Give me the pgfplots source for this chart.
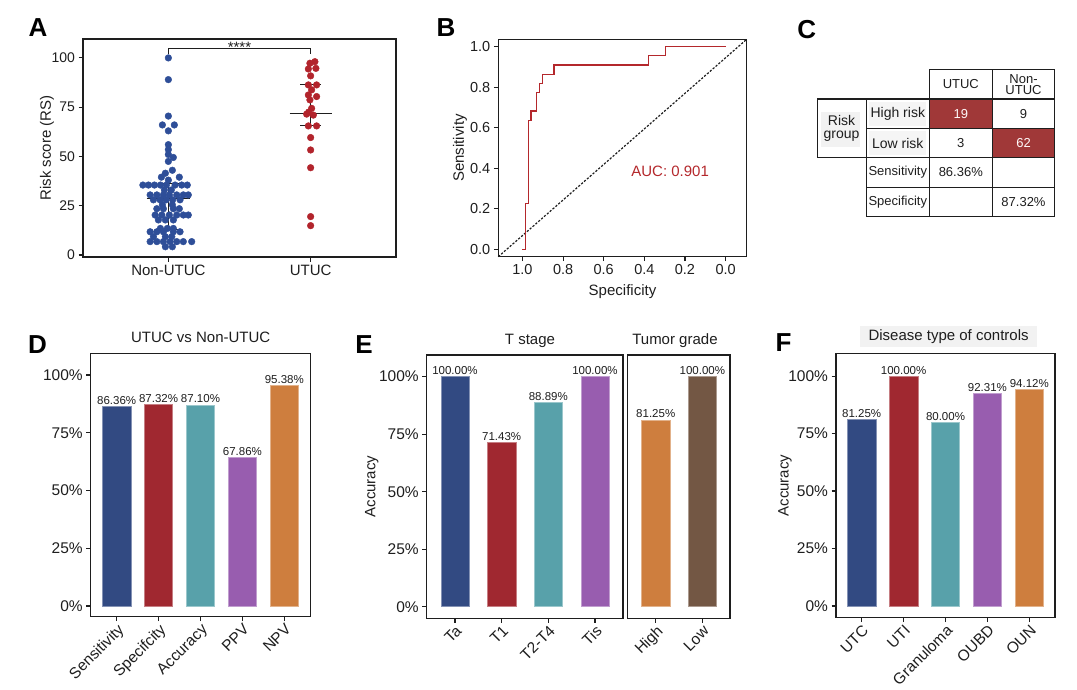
\documentclass[border=0pt]{standalone}
\usepackage{fontspec}
\setmainfont{Liberation Sans}
\usepackage{pgfplots}
\pgfplotsset{compat=1.18}
\definecolor{dotblue}{RGB}{46,78,152}
\definecolor{dotred}{RGB}{178,36,44}
\definecolor{cblue}{RGB}{50,74,130}
\definecolor{cred}{RGB}{160,40,48}
\definecolor{cteal}{RGB}{88,161,170}
\definecolor{cpurple}{RGB}{152,93,175}
\definecolor{corange}{RGB}{206,126,62}
\definecolor{cbrown}{RGB}{115,87,68}
\definecolor{rocred}{RGB}{180,40,44}
\definecolor{tabred}{RGB}{160,56,56}
\definecolor{ink}{RGB}{30,30,30}
\newcommand{\fs}[1]{\fontsize{#1}{#1}\selectfont}
\pgfplotsset{
  panel/.style={scale only axis, anchor=south west,
    axis line style={line width=1.5pt, ink},
    every tick/.style={line width=1.1pt, ink},
    major tick length=4.5pt, tick align=outside,
    xtick pos=bottom, ytick pos=left,
    /pgf/number format/assume math mode=true,
    tick label style={font=\fs{14}, text=ink},
    clip=false},
  ylab/.style={every axis y label/.style={at={(axis description cs:#1,0.5)}, rotate=90, anchor=center, font=\fs{15}, text=ink}},
  xlab/.style={every axis x label/.style={at={(axis description cs:0.5,#1)}, anchor=center, font=\fs{15}, text=ink}},
  barpanel/.style={panel, ytick={0,25,50,75,100}, yticklabels={0\%,25\%,50\%,75\%,100\%},
    tick label style={font=\fs{15.5}},
    xticklabel style={rotate=45, anchor=north east, inner sep=1pt},
    title style={font=\fs{15}, anchor=base, text=ink},
    nodes near coords style={font=\fs{11.5}, text=ink, inner sep=1.5pt}},
  colbar/.style={ybar, bar width=28.3pt, bar shift=0pt, fill=#1, draw=#1!60!white, line width=0.5pt},
}
\begin{document}
\begin{tikzpicture}
\path[use as bounding box] (0pt,0pt) rectangle (1077pt,-690pt);

% ---------------- Panel A ----------------
\begin{axis}[panel, at={(83pt,-257pt)}, width=313pt, height=218pt,
  xmin=0.4, xmax=2.6, ymin=-1, ymax=109.6,
  xtick={1,2}, xticklabels={Non-UTUC,UTUC}, ytick={0,25,50,75,100},
  x tick label style={font=\fs{15}},
  ylab=-0.115, ylabel={Risk score (RS)}]
\addplot[only marks, mark=*, mark size=3.35pt, color=dotblue, mark options={draw=dotblue, fill=dotblue}] coordinates {
(1,100) (1,89) (1,70.5) (0.958,66) (1.042,66) (1,63) (1,56) (1,53.5) (1,51) (1.035,49.5) (1,47.5)
(1.028,43) (0.979,41.5) (0.951,39.5) (1.077,39.5) (1,38)
(0.821,35.5) (0.860,35.5) (0.902,35.5) (0.944,35.5) (0.986,35.5) (1.047,35.5) (1.094,35.5) (1.133,35.5)
(0.972,33) (1.021,33)
(0.872,30.5) (0.919,30.5) (0.965,30.5) (1.007,30.5) (1.059,30.5) (1.105,30.5) (1.140,30.5)
(0.895,28) (0.942,28) (0.984,28) (1.030,28) (1.082,28)
(0.958,25.5) (1.028,25.5)
(0.919,23.5) (0.965,23.5) (1.035,23.5) (1.077,23.5)
(0.907,20.3) (0.954,20.3) (1.007,20.3) (1.059,20.3) (1.105,20.3) (1.140,20.3)
(0.930,17.8) (0.979,17.8) (1.035,17.8)
(0.944,13.5) (0.993,13.5) (1.035,13.5)
(0.872,11.8) (0.919,11.8) (0.965,11.8) (1.035,11.8) (1.082,11.8)
(0.895,9.3) (0.979,9.3) (1.024,9.3)
(0.872,6.8) (0.919,6.8) (0.965,6.8) (1.012,6.8) (1.059,6.8) (1.105,6.8) (1.164,6.8)
(0.979,4.2) (1.028,4.2)
};
\addplot[only marks, mark=*, mark size=3.35pt, color=dotred, mark options={draw=dotred, fill=dotred}] coordinates {
(2.030,98.1) (1.995,97.3) (2.037,94.7) (1.984,94.4) (2.0,90.9) (1.984,86.3) (2.042,86.3)
(2.007,83.8) (1.984,81.2) (2.042,80.4) (1.995,78.7) (2.007,74.4) (1.986,72.5) (1.972,71.5)
(2.019,71) (1.984,65.5) (2.042,65.5) (2.0,59.6) (2.0,53.3) (2.0,44.3) (2.0,19.5) (2.0,14.9)
};
% summary bars
\addplot[ink, line width=1pt] coordinates {(0.848,28.8) (1.152,28.8)};
\addplot[ink, line width=1pt] coordinates {(1,13.2) (1,36.4)};
\addplot[ink, line width=1pt] coordinates {(0.928,36.4) (1.075,36.4)};
\addplot[ink, line width=1pt] coordinates {(0.928,13.2) (1.075,13.2)};
\addplot[ink, line width=1pt] coordinates {(1.852,72) (2.148,72)};
\addplot[ink, line width=1pt] coordinates {(2,65.5) (2,86.3)};
\addplot[ink, line width=1pt] coordinates {(1.928,86.3) (2.072,86.3)};
\addplot[ink, line width=1pt] coordinates {(1.928,65.5) (2.072,65.5)};
% significance bracket
\addplot[ink, line width=1pt] coordinates {(1,101.8) (1,104.6) (2,104.6) (2,101.8)};
\node[font=\fs{15}, inner sep=0pt, text=ink] at (axis cs:1.5,105.5) {****};
\end{axis}

% ---------------- Panel B ----------------
\begin{axis}[panel, at={(498.3pt,-256.7pt)}, width=248.4pt, height=217.4pt,
  x dir=reverse, xmin=-0.104, xmax=1.119, ymin=-0.0365, ymax=1.0365,
  xtick={0,0.2,0.4,0.6,0.8,1}, xticklabels={0.0,0.2,0.4,0.6,0.8,1.0},
  ytick={0,0.2,0.4,0.6,0.8,1}, yticklabels={0.0,0.2,0.4,0.6,0.8,1.0},
  tick label style={font=\fs{14.5}},
  xlabel={Specificity}, ylabel={Sensitivity}, ylab=-0.154, xlab=-0.162]
\addplot[ink, line width=1.2pt, dash pattern=on 2.2pt off 1.6pt] coordinates {(1.119,-0.0365) (-0.104,1.0365)};
\addplot[rocred, line width=1.3pt] coordinates {
(1,0) (0.986,0) (0.986,0.227) (0.972,0.227) (0.972,0.636) (0.958,0.636) (0.958,0.682)
(0.930,0.682) (0.930,0.773) (0.915,0.773) (0.915,0.818) (0.901,0.818) (0.901,0.864)
(0.845,0.864) (0.845,0.909) (0.380,0.909) (0.380,0.955) (0.296,0.955) (0.296,1) (0,1)
};
\node[font=\fs{15}, text=rocred] at (axis cs:0.273,0.386) {AUC: 0.901};
\end{axis}

% ---------------- Panel D ----------------
\begin{axis}[barpanel, at={(90.7pt,-616.7pt)}, width=220pt, height=263.4pt,
  xmin=0.38, xmax=5.63, ymin=-4.63, ymax=109.4,
  xtick={1,2,3,4,5}, xticklabels={Sensitivity,Specifcity,Accuracy,PPV,NPV},
  title={UTUC vs Non-UTUC}, title style={at={(axis description cs:0.5,1.019)}}]
\addplot[colbar=cblue, nodes near coords={86.36\%}] coordinates {(1,86.36)};
\addplot[colbar=cred, nodes near coords={87.32\%}] coordinates {(2,87.32)};
\addplot[colbar=cteal, nodes near coords={87.10\%}] coordinates {(3,87.10)};
\addplot[colbar=cpurple, nodes near coords={67.86\%}] coordinates {(4,64.29)};
\addplot[colbar=corange, nodes near coords={95.38\%}] coordinates {(5,95.38)};
\end{axis}

% ---------------- Panel E ----------------
\begin{axis}[barpanel, at={(426.7pt,-618.3pt)}, width=196.3pt, height=263.3pt,
  xmin=0.394, xmax=4.6, ymin=-5.04, ymax=109.4,
  xtick={1,2,3,4}, xticklabels={Ta,T1,T2-T4,Tis},
  title={T stage}, title style={at={(axis description cs:0.526,1.019)}},
  ylabel={Accuracy}, ylab=-0.28]
\addplot[colbar=cblue, nodes near coords={100.00\%}] coordinates {(1,100)};
\addplot[colbar=cred, nodes near coords={71.43\%}] coordinates {(2,71.43)};
\addplot[colbar=cteal, nodes near coords={88.89\%}] coordinates {(3,88.89)};
\addplot[colbar=cpurple, nodes near coords={100.00\%}] coordinates {(4,100)};
\end{axis}
\begin{axis}[barpanel, at={(627.3pt,-618.3pt)}, width=102.7pt, height=263.3pt,
  xmin=0.39, xmax=2.594, ymin=-5.04, ymax=109.4, ytick=\empty,
  xtick={1,2}, xticklabels={High,Low},
  title={Tumor grade}, title style={at={(axis description cs:0.464,1.019)}}]
\addplot[colbar=corange, nodes near coords={81.25\%}] coordinates {(1,81.25)};
\addplot[colbar=cbrown, nodes near coords={100.00\%}] coordinates {(2,100)};
\end{axis}

% ---------------- Panel F ----------------
\begin{axis}[barpanel, at={(836pt,-617.7pt)}, width=219pt, height=264.4pt,
  xmin=0.387, xmax=5.613, ymin=-5.09, ymax=109.9,
  xtick={1,2,3,4,5}, xticklabels={UTC,UTI,Granuloma,OUBD,OUN},
  title={Disease type of controls},
  title style={at={(axis description cs:0.514,1)}, anchor=south, fill=black!5, minimum width=177pt, minimum height=21pt, inner sep=0pt},
  ylabel={Accuracy}, ylab=-0.233]
\addplot[colbar=cblue, nodes near coords={81.25\%}] coordinates {(1,81.25)};
\addplot[colbar=cred, nodes near coords={100.00\%}] coordinates {(2,100)};
\addplot[colbar=cteal, nodes near coords={80.00\%}] coordinates {(3,80)};
\addplot[colbar=cpurple, nodes near coords={92.31\%}] coordinates {(4,92.31)};
\addplot[colbar=corange, nodes near coords={94.12\%}] coordinates {(5,94.12)};
\end{axis}

% ---------------- Panel C (table) and letters ----------------
\begin{scope}[x=1pt,y=1pt]
\fill[tabred] (929.3,-99) rectangle (992.3,-128.3);
\fill[tabred] (992.3,-128.3) rectangle (1054.7,-157.7);
\fill[black!5] (820.7,-111.7) rectangle (860,-146.7);
\fill[black!4] (869,-102) rectangle (926,-126);
\fill[black!4] (869,-131) rectangle (926,-155);
\draw[ink, line width=1.4pt] (929.3,-69.3) rectangle (1054.7,-99);
\draw[ink, line width=1.4pt] (992.3,-69.3) -- (992.3,-99);
\draw[ink, line width=1.4pt] (817.3,-99) rectangle (866.7,-157.7);
\draw[ink, line width=1.4pt] (866.7,-99) rectangle (1054.7,-216.7);
\foreach \yy in {-128.3,-157.7,-187.3} \draw[ink, line width=1.4pt] (866.7,\yy) -- (1054.7,\yy);
\foreach \xx in {929.3,992.3} \draw[ink, line width=1.4pt] (\xx,-99) -- (\xx,-216.7);
\node[font=\fs{13}, text=ink] at (960.8,-84.2) {UTUC};
\node[font=\fs{13}, text=ink, align=center] at (1023.5,-84.2) {Non-\\[-2pt]UTUC};
\node[font=\fs{14}, text=ink, align=center] at (841.5,-128.3) {Risk\\[-1pt]group};
\node[font=\fs{14}, text=ink] at (897.8,-113.7) {High risk};
\node[font=\fs{14}, text=ink] at (897.8,-143) {Low risk};
\node[font=\fs{13}, text=ink] at (897.8,-172.5) {Sensitivity};
\node[font=\fs{13}, text=ink] at (897.8,-202) {Specificity};
\node[font=\fs{13}, text=white!90!pink] at (960.8,-113.7) {19};
\node[font=\fs{13}, text=ink] at (1023.5,-113.7) {9};
\node[font=\fs{13}, text=ink] at (960.8,-143) {3};
\node[font=\fs{13}, text=white!90!pink] at (1023.5,-143) {62};
\node[font=\fs{13}, text=ink] at (960.8,-172.5) {86.36\%};
\node[font=\fs{13}, text=ink] at (1023.5,-202) {87.32\%};
\node[font=\bfseries\fs{26}, text=black] at (38,-28) {A};
\node[font=\bfseries\fs{26}, text=black] at (446,-27.5) {B};
\node[font=\bfseries\fs{26}, text=black] at (806.7,-30) {C};
\node[font=\bfseries\fs{26}, text=black] at (37.5,-345) {D};
\node[font=\bfseries\fs{26}, text=black] at (364,-345) {E};
\node[font=\bfseries\fs{26}, text=black] at (783.5,-342.5) {F};
\end{scope}
\end{tikzpicture}
\end{document}
